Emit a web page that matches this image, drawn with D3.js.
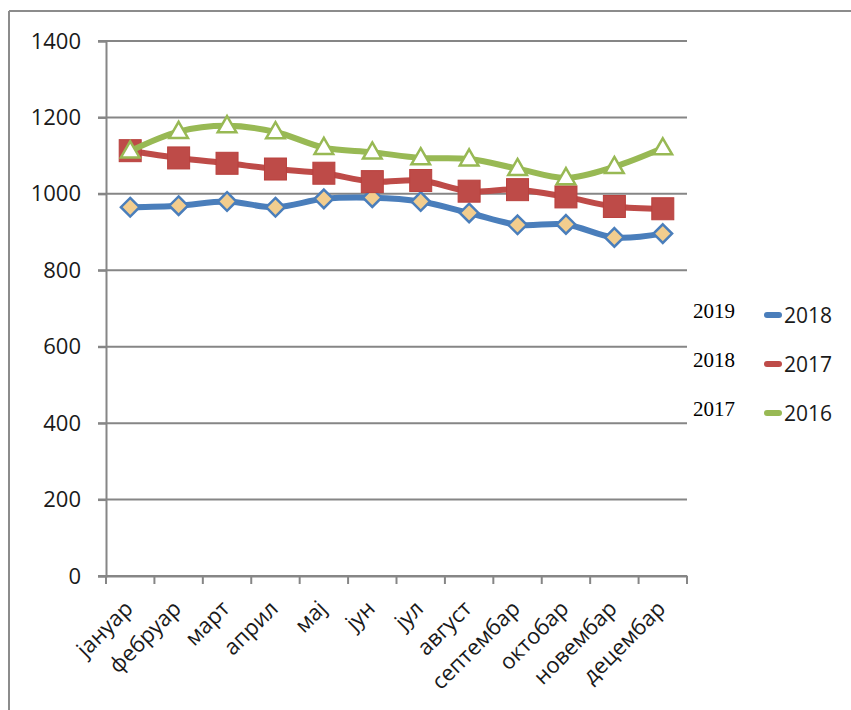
<!DOCTYPE html>
<html><head><meta charset="utf-8">
<script src="https://cdn.jsdelivr.net/npm/d3@7"></script>
<style>
html,body{margin:0;padding:0;background:#fff;}
svg{display:block;}
</style></head>
<body>
<svg id="c" width="851" height="710"></svg>
<script>
const months = ["јануар","фебруар","март","април","мај","јун","јул","август","септембар","октобар","новембар","децембар"];
const s2018 = [965, 969, 980, 965, 987, 990, 980, 950, 919, 920, 886, 896];
const s2017 = [1113, 1094, 1080, 1065, 1054, 1032, 1035, 1007, 1011, 992, 967, 961];
const s2016 = [1112, 1163, 1178, 1162, 1121, 1109, 1094, 1091, 1066, 1042, 1071, 1120];
const seriesNames = ["2018","2017","2016"];
const sideLabels = ["2019","2018","2017"];
const yTicks = [0,200,400,600,800,1000,1200,1400];

const svg = d3.select("#c");
const font = "'Open Sans', 'Noto Sans', sans-serif";
const gridCol = "#868686";

// outer frame (top + left)
svg.append("line").attr("x1",9).attr("x2",851).attr("y1",11).attr("y2",11).attr("stroke","#8c8c8c").attr("stroke-width",2);
svg.append("line").attr("x1",9).attr("x2",9).attr("y1",11).attr("y2",710).attr("stroke","#8c8c8c").attr("stroke-width",2);

const L = 106, R = 687, T = 41, B = 576;
const x = d3.scaleBand().domain(months).range([L, R]);
const y = d3.scaleLinear().domain([0,1400]).range([B, T]);

// gridlines
svg.append("g").selectAll("line").data(yTicks).join("line")
  .attr("x1", L-8).attr("x2", R).attr("y1", d=>y(d)).attr("y2", d=>y(d))
  .attr("stroke", gridCol).attr("stroke-width", 2);

// y axis
const yAxis = d3.axisLeft(y).tickValues(yTicks).tickSize(8).tickPadding(17).tickFormat(d3.format("d"));
const gy = svg.append("g").attr("transform",`translate(${L},0)`).call(yAxis);
gy.select(".domain").attr("stroke", gridCol).attr("stroke-width",2);
gy.selectAll(".tick line").attr("stroke", gridCol).attr("stroke-width",2);
gy.selectAll("text").attr("font-family", font).attr("font-size", 22).attr("fill","#1a1a1a");

// x axis
const xAxis = d3.axisBottom(x).tickSize(0).tickFormat(d=>d);
const gx = svg.append("g").attr("transform",`translate(0,${B})`).call(xAxis);
gx.select(".domain").attr("stroke", gridCol).attr("stroke-width",2);
gx.selectAll("text")
  .attr("font-family", font).attr("font-size", 22).attr("fill","#1a1a1a")
  .attr("text-anchor","end").attr("dy", 0).attr("y", 0)
  .attr("transform", "translate(4,34) rotate(-45)");
// tick marks at band boundaries
const bounds = months.map(m=>x(m)).concat([R]);
svg.append("g").selectAll("line").data(bounds).join("line")
  .attr("x1", d=>d).attr("x2", d=>d).attr("y1", B).attr("y2", B+8)
  .attr("stroke", gridCol).attr("stroke-width",2);

const cx = m => x(m) + x.bandwidth()/2;
const line = d3.line().x((d,i)=>cx(months[i])).y(d=>y(d)).curve(d3.curveCatmullRom.alpha(0.5));

const colors = ["#4A7EBB","#BE4B48","#98B954"];

// 2018 blue with diamonds
svg.append("path").attr("d", line(s2018)).attr("fill","none").attr("stroke",colors[0]).attr("stroke-width",6).attr("stroke-linejoin","round");
svg.append("g").selectAll("path").data(s2018).join("path")
  .attr("d", d3.symbol().type(d3.symbolDiamond2).size(220))
  .attr("transform",(d,i)=>`translate(${cx(months[i])},${y(d)})`)
  .attr("fill","#F2CD8E").attr("stroke",colors[0]).attr("stroke-width",2.5);

// 2017 red squares
svg.append("path").attr("d", line(s2017)).attr("fill","none").attr("stroke",colors[1]).attr("stroke-width",6).attr("stroke-linejoin","round");
svg.append("g").selectAll("rect").data(s2017).join("rect")
  .attr("x",(d,i)=>cx(months[i])-11).attr("y",d=>y(d)-11).attr("width",22).attr("height",22)
  .attr("fill",colors[1]).attr("stroke","#B9403D").attr("stroke-width",1);

// 2016 green triangles
svg.append("path").attr("d", line(s2016)).attr("fill","none").attr("stroke",colors[2]).attr("stroke-width",6).attr("stroke-linejoin","round");
svg.append("g").selectAll("path").data(s2016).join("path")
  .attr("d", d3.symbol().type(d3.symbolTriangle).size(150))
  .attr("transform",(d,i)=>`translate(${cx(months[i])},${y(d)+1})`)
  .attr("fill","#fff").attr("stroke",colors[2]).attr("stroke-width",2.5);

// legend
const legY = [315, 364, 413];
const lg = svg.append("g");
seriesNames.forEach((n,i)=>{
  lg.append("text").attr("x",693).attr("y",legY[i]+3).text(sideLabels[i])
    .attr("font-family","'Liberation Serif', 'Times New Roman', serif").attr("font-size",21).attr("fill","#000");
  lg.append("line").attr("x1",767).attr("x2",779).attr("y1",legY[i]).attr("y2",legY[i])
    .attr("stroke",colors[i]).attr("stroke-width",6).attr("stroke-linecap","round");
  lg.append("text").attr("x",784).attr("y",legY[i]+8).text(n)
    .attr("font-family",font).attr("font-size",21).attr("fill","#1a1a1a");
});
</script>
</body></html>
